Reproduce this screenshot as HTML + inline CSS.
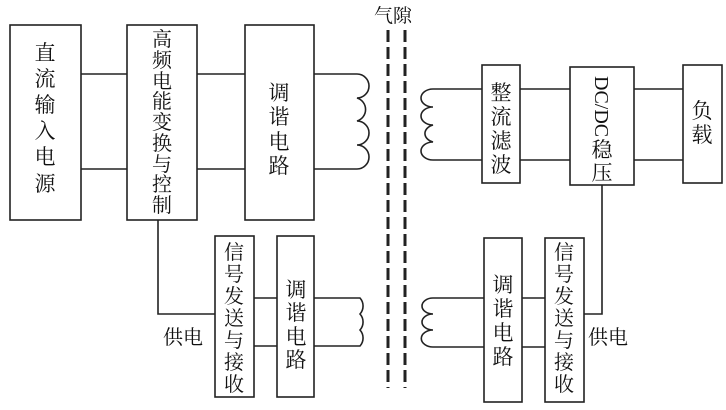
<!DOCTYPE html><html><head><style>
body{margin:0;background:#fff}
.t{font-family:"Liberation Serif","Noto Serif CJK SC",serif;font-size:21px;fill:#111}
</style></head><body>
<svg width="726" height="405" xmlns="http://www.w3.org/2000/svg">
<g fill="none" stroke="#222" stroke-width="1.6">
<rect x="10" y="25" width="71" height="195"/>
<rect x="127" y="25" width="70" height="195"/>
<rect x="245" y="25" width="69" height="195"/>
<rect x="215" y="236" width="39" height="161"/>
<rect x="277" y="236" width="37" height="161"/>
<rect x="482" y="65" width="38" height="118"/>
<rect x="570" y="67" width="64" height="118"/>
<rect x="683" y="65" width="39" height="118"/>
<rect x="484" y="238" width="38" height="164"/>
<rect x="545" y="238" width="39" height="164"/>
<path d="M81 74H127M81 169H127M197 74H245M197 169H245"/>
<path d="M254 298H277M254 346H277M522 298H545M522 347H545"/>
<path d="M520 89H570M520 160H570M634 89H683M634 160H683"/>
<path d="M158 220V314H215M602 185V314H584"/>
<path d="M314 74H357 a12 12 0 0 1 0 24 a12 12 0 0 1 0 23 a12 12 0 0 1 0 24 a12 12 0 0 1 0 24 H314"/>
<path d="M314 298H360 a12 12 0 0 1 0 16 a12 12 0 0 1 0 16 a12 12 0 0 1 0 16 H314"/>
<path d="M482 89H433 a12 9 0 0 0 0 18 a12 9 0 0 0 0 18 a12 9 0 0 0 0 17 a12 9 0 0 0 0 18 H482"/>
<path d="M484 298H433 a11 8 0 0 0 0 16 a11 8 0 0 0 0 16 a11 8 0 0 0 0 17 H484"/>
<path d="M388 30V388M405 30V388" stroke-width="3" stroke-dasharray="12 5"/>
</g>
<g class="t" text-anchor="middle">
<text x="393" y="22" font-size="19">气隙</text>
<g><text x="45" y="60">直</text><text x="45" y="86">流</text><text x="45" y="112">输</text><text x="45" y="138">入</text><text x="45" y="164">电</text><text x="45" y="191">源</text></g>
<g font-size="20"><text x="162" y="46">高</text><text x="162" y="67">频</text><text x="162" y="88">电</text><text x="162" y="108">能</text><text x="162" y="129">变</text><text x="162" y="150">换</text><text x="162" y="171">与</text><text x="162" y="191">控</text><text x="162" y="212">制</text></g>
<g><text x="279" y="100">调</text><text x="279" y="124">谐</text><text x="279" y="149">电</text><text x="279" y="173">路</text></g>
<g font-size="20"><text x="234" y="259">信</text><text x="234" y="281">号</text><text x="234" y="303">发</text><text x="234" y="325">送</text><text x="234" y="347">与</text><text x="234" y="369">接</text><text x="234" y="391">收</text></g>
<g><text x="296" y="297">调</text><text x="296" y="320">谐</text><text x="296" y="344">电</text><text x="296" y="367">路</text></g>
<text x="183" y="344" font-size="20">供电</text>
<g><text x="501" y="100">整</text><text x="501" y="124">流</text><text x="501" y="148">滤</text><text x="501" y="172">波</text></g>
<text x="602" y="76" font-size="20" transform="rotate(90 602 76)" text-anchor="start" dy="7">DC/DC</text>
<g><text x="602" y="157">稳</text><text x="602" y="180">压</text></g>
<g><text x="702" y="118">负</text><text x="702" y="142">载</text></g>
<g><text x="503" y="292">调</text><text x="503" y="316">谐</text><text x="503" y="340">电</text><text x="503" y="364">路</text></g>
<g font-size="20"><text x="564" y="259">信</text><text x="564" y="281">号</text><text x="564" y="303">发</text><text x="564" y="325">送</text><text x="564" y="347">与</text><text x="564" y="369">接</text><text x="564" y="391">收</text></g>
<text x="608" y="344" font-size="20">供电</text>
</g>
</svg>
</body></html>
